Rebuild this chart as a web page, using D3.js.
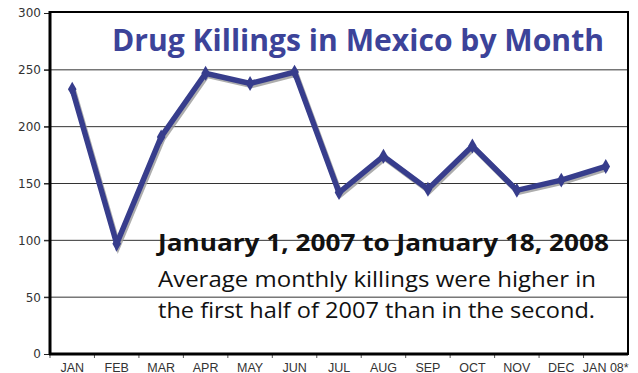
<!DOCTYPE html>
<html>
<head>
<meta charset="utf-8">
<script src="https://cdn.jsdelivr.net/npm/d3@7/dist/d3.min.js"></script>
<style>
  html, body { margin: 0; padding: 0; background: #fff; }
  svg { display: block; }
</style>
</head>
<body>
<svg id="chart" width="638" height="373"></svg>
<script>
// Monthly drug-related killings, Jan 2007 – Jan 18 2008
const months = ["JAN", "FEB", "MAR", "APR", "MAY", "JUN", "JUL", "AUG", "SEP", "OCT", "NOV", "DEC", "JAN 08*"];
const killings = [233, 97, 191, 247, 238, 248, 142, 174, 145, 183, 144, 153, 165];
const yTicks = [0, 50, 100, 150, 200, 250, 300];

const titleText = "Drug Killings in Mexico by Month";
const noteHead = "January 1, 2007 to January 18, 2008";
const noteLines = ["Average monthly killings were higher in", "the first half of 2007 than in the second."];

const svg = d3.select("#chart");
const plotLeft = 50, plotRight = 628, plotTop = 12, plotBottom = 354;

const x = d3.scaleBand().domain(months).range([plotLeft, plotRight]).paddingInner(0).paddingOuter(0);
const y = d3.scaleLinear().domain([0, 300]).range([plotBottom, plotTop + 1]);

// horizontal gridlines
svg.append("g")
  .selectAll("line")
  .data(yTicks.filter(d => d > 0 && d < 300))
  .join("line")
  .attr("x1", plotLeft - 6).attr("x2", plotRight)
  .attr("y1", d => y(d)).attr("y2", d => y(d))
  .attr("stroke", "#333").attr("stroke-width", 1);

// y axis labels
const yAxis = d3.axisLeft(y).tickValues(yTicks).tickSize(6).tickPadding(3);
const gy = svg.append("g").attr("transform", `translate(${plotLeft},0)`).call(yAxis);
gy.select(".domain").remove();
gy.selectAll(".tick line").attr("stroke", "#222");
gy.selectAll("text")
  .attr("font-family", "DejaVu Sans, Verdana, sans-serif")
  .attr("font-size", 12).attr("fill", "#333");

// x axis: ticks at band boundaries, labels centered in bands
const gx = svg.append("g").attr("transform", `translate(0,${plotBottom})`);
gx.selectAll("line.tk")
  .data(months)
  .join("line").attr("class", "tk")
  .attr("x1", d => x(d)).attr("x2", d => x(d))
  .attr("y1", 0).attr("y2", 4)
  .attr("stroke", "#555").attr("stroke-width", 1);
gx.selectAll("text")
  .data(months)
  .join("text")
  .attr("x", d => x(d) + x.bandwidth() / 2)
  .attr("y", 17.5)
  .attr("text-anchor", "middle")
  .attr("font-family", "Liberation Sans, Arial, sans-serif")
  .attr("font-size", 12.5).attr("fill", "#333")
  .text(d => d);

// frame: thin top/right, heavy left/bottom axes
svg.append("rect")
  .attr("x", plotLeft).attr("y", plotTop)
  .attr("width", plotRight - plotLeft).attr("height", plotBottom - plotTop)
  .attr("fill", "none").attr("stroke", "#000").attr("stroke-width", 2);
svg.append("line").attr("x1", plotLeft).attr("x2", plotLeft).attr("y1", plotTop - 1).attr("y2", plotBottom + 1)
  .attr("stroke", "#000").attr("stroke-width", 3);
svg.append("line").attr("x1", plotLeft - 1).attr("x2", plotRight).attr("y1", plotBottom).attr("y2", plotBottom)
  .attr("stroke", "#000").attr("stroke-width", 3);

// title
svg.append("text")
  .attr("x", 112).attr("y", 51)
  .attr("font-family", "Open Sans, sans-serif")
  .attr("font-weight", 700).attr("font-size", 30)
  .attr("fill", "#3c4399")
  .attr("textLength", 492).attr("lengthAdjust", "spacingAndGlyphs")
  .text(titleText);

// annotation
svg.append("text")
  .attr("x", 158).attr("y", 251)
  .attr("font-family", "Open Sans, sans-serif")
  .attr("font-weight", 700).attr("font-size", 23)
  .attr("fill", "#111")
  .attr("textLength", 451).attr("lengthAdjust", "spacingAndGlyphs")
  .text(noteHead);
const noteLens = [438, 437];
noteLines.forEach((t, i) => {
  svg.append("text")
    .attr("x", 158).attr("y", 287 + i * 31)
    .attr("font-family", "Open Sans, sans-serif")
    .attr("font-size", 22)
    .attr("fill", "#111")
    .attr("textLength", noteLens[i]).attr("lengthAdjust", "spacingAndGlyphs")
    .text(t);
});

// data line with drop shadow and diamond markers
const pts = months.map((m, i) => ({ m, v: killings[i] }));
const line = d3.line().x(d => x(d.m) + x.bandwidth() / 2).y(d => y(d.v));
const diamond = d3.symbol().type(d3.symbolDiamond).size(64);

svg.append("path").datum(pts)
  .attr("d", line)
  .attr("transform", "translate(1.5,2)")
  .attr("fill", "none").attr("stroke", "#999").attr("stroke-width", 5.5)
  .attr("stroke-linejoin", "miter").attr("opacity", 0.8);
svg.append("path").datum(pts)
  .attr("d", line)
  .attr("fill", "none").attr("stroke", "#373d8c").attr("stroke-width", 5.5)
  .attr("stroke-linejoin", "miter");
svg.append("g").selectAll("path")
  .data(pts)
  .join("path")
  .attr("d", diamond)
  .attr("transform", d => `translate(${x(d.m) + x.bandwidth() / 2},${y(d.v)})`)
  .attr("fill", "#373d8c");
</script>
</body>
</html>
